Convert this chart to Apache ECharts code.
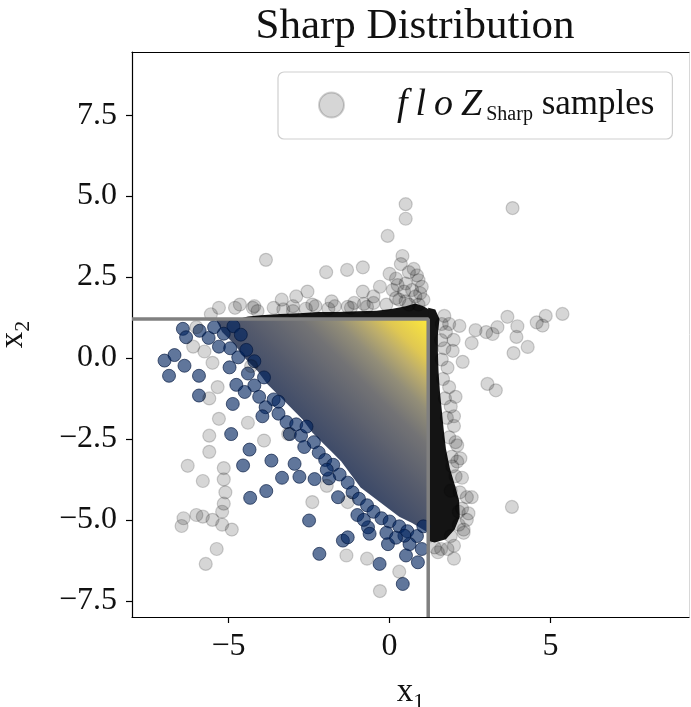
<!DOCTYPE html>
<html><head><meta charset="utf-8">
<script src="https://cdn.jsdelivr.net/npm/echarts@6/dist/echarts.min.js"></script>
<style>html,body{margin:0;padding:0;background:#fff}#c{width:691px;height:707px}</style>
</head><body><div id="c"></div>
<script>
// ---- data ----
const xTicks = [-5, 0, 5];
const yTicks = [-7.5, -5, -2.5, 0, 2.5, 5, 7.5];
const xRange = [-8, 9.3];
const yRange = [-8, 9.45];
// truncation boundary of the Sharp distribution
const boundaryLine = [[-8, 1.2], [1.2, 1.2], [1.2, -8]];
// dense region of target samples (colour-mapped)
const targetRegion = [[1.2,1.2],[-5.4,1.2],[-5.2,0.8],[-4.8,0.4],[-4.5,0.0],[-4.1,-0.4],[-3.8,-0.8],[-3.4,-1.2],[-3.0,-1.6],[-2.7,-1.9],[-2.4,-2.3],[-2.1,-2.6],[-1.8,-2.9],[-1.5,-3.2],[-1.2,-3.6],[-0.9,-4.0],[-0.5,-4.3],[-0.1,-4.6],[0.3,-4.9],[0.7,-5.1],[1.2,-5.4]];
const gradientFrom = [-2.4, -2.4];
const gradientTo = [1.2, 1.2];
// dense piles of floZ samples along the boundary
const topBand = [[-4.7,1.2],[1.2,1.2],[1.3,1.45],[1.05,1.6],[0.8,1.68],[0.5,1.6],[0.1,1.52],[-0.4,1.46],[-1.0,1.44],[-1.6,1.42],[-2.2,1.42],[-2.8,1.38],[-3.4,1.36],[-4.0,1.32],[-4.4,1.28]];
const rightBand = [[1.2,1.55],[1.42,1.5],[1.55,1.2],[1.5,0.7],[1.5,0.2],[1.52,-0.4],[1.56,-1.0],[1.62,-1.6],[1.68,-2.2],[1.75,-2.8],[1.87,-3.4],[2.02,-3.9],[2.16,-4.4],[2.18,-4.9],[2.02,-5.3],[1.75,-5.6],[1.4,-5.7],[1.2,-5.65]];
// sparse target samples (low density, dark blue)
const targetPoints = [[-6.42,0.90],[-6.32,0.64],[-5.90,0.84],[-5.62,0.62],[-5.45,0.95],[-5.15,0.75],[-4.85,0.98],[-4.62,0.72],[-5.30,0.35],[-4.95,0.30],[-4.70,0.02],[-4.45,0.25],[-6.99,-0.08],[-6.68,0.09],[-6.85,-0.55],[-6.37,-0.24],[-5.92,-0.55],[-5.92,-1.16],[-4.87,-1.42],[-4.76,-0.83],[-4.97,-0.29],[-4.40,-0.48],[-4.20,-0.85],[-4.50,-1.05],[-4.05,-1.20],[-3.85,-1.52],[-3.60,-1.28],[-3.95,-1.80],[-3.45,-1.72],[-3.20,-1.98],[-2.90,-2.05],[-2.75,-2.40],[-2.58,-2.12],[-2.65,-2.75],[-2.35,-2.60],[-2.20,-2.92],[-2.00,-3.15],[-1.75,-3.30],[-1.55,-3.60],[-1.30,-3.85],[-1.15,-4.15],[-0.95,-4.35],[-0.70,-4.55],[-0.50,-4.75],[-0.25,-4.95],[0.00,-5.05],[0.30,-5.20],[0.55,-5.35],[0.85,-5.50],[1.00,-5.90],[0.88,-6.31],[0.62,-5.75],[0.51,-6.10],[0.46,-5.49],[0.41,-6.98],[-0.31,-6.36],[-0.05,-5.75],[-0.10,-5.40],[-0.67,-5.23],[-0.62,-5.43],[-1.45,-5.64],[-1.30,-5.54],[-2.18,-6.05],[-2.50,-5.02],[-4.92,-2.35],[-4.35,-2.83],[-4.55,-3.32],[-3.67,-3.17],[-3.10,-2.35],[-3.34,-3.70],[-2.95,-3.27],[-2.80,-3.67],[-3.83,-4.11],[-4.33,-4.32],[-2.33,-3.74],[-1.88,-3.72],[-1.60,-4.30],[-1.00,-4.85],[-0.80,-5.00],[1.05,-5.20],[0.20,-5.55],[-1.95,-3.45],[-3.45,-1.35],[-4.20,-0.10],[-3.90,-0.60]];
// floZ samples (sparse ones)
const flowPoints = [[0.50,4.75],[0.50,4.30],[-0.06,3.77],[3.82,4.63],[0.40,3.15],[-0.83,2.80],[-0.80,1.67],[-3.84,3.03],[-1.97,2.65],[-1.32,2.72],[-3.35,1.80],[-2.90,1.90],[-2.55,2.05],[-4.25,1.55],[-4.65,1.65],[-2.30,1.60],[-1.80,1.75],[-1.20,1.55],[-0.50,1.90],[-0.83,2.05],[0.00,2.60],[0.20,2.45],[0.50,2.30],[0.70,2.10],[0.90,2.40],[0.80,1.90],[0.30,1.80],[0.60,2.65],[0.95,2.00],[0.10,2.10],[0.60,1.65],[0.90,1.65],[0.35,2.90],[-0.30,2.20],[0.75,2.75],[1.00,2.20],[0.25,2.25],[0.45,2.05],[0.85,2.55],[1.05,1.80],[-5.30,1.55],[-5.55,1.35],[-3.00,1.45],
[3.66,1.27],[4.85,1.30],[5.37,1.36],[4.57,1.10],[4.75,1.00],[3.97,0.98],[3.94,0.65],[4.29,0.34],[3.85,0.15],[2.67,0.86],[3.20,0.74],[3.00,0.80],[2.55,0.46],[3.35,0.95],[2.17,0.99],[1.85,1.05],[1.99,0.56],[1.96,0.22],[2.27,-0.12],[3.04,-0.80],[3.30,-1.00],[2.10,-2.70],[2.20,-3.10],[1.95,-3.35],[3.80,-4.60],[2.30,-5.30],[1.80,-5.90],[2.15,-4.75],[2.05,-1.20],[2.00,-1.80],[1.90,-4.10],[2.55,-4.30],[2.40,-5.00],[1.50,-6.00],[2.00,-6.20],
[1.70,1.30],[1.75,0.80],[1.70,0.30],[1.80,-0.30],[1.85,-0.90],[1.90,-1.50],[2.00,-2.10],[2.05,-2.60],[2.10,-3.20],[2.25,-3.70],[2.40,-4.30],[2.45,-4.80],[2.30,-5.40],[2.00,-5.80],[1.60,-5.90],[-4.80,1.55],[-4.20,1.60],[-3.60,1.55],[-3.00,1.60],[-2.40,1.65],[-1.70,1.60],[-1.10,1.70],[-0.50,1.70],[0.20,1.85],
[1.62,1.05],[1.60,0.55],[1.62,-0.05],[1.66,-0.65],[1.72,-1.25],[1.78,-1.85],[1.85,-2.45],[1.93,-3.05],[2.05,-3.65],[2.18,-4.15],[2.25,-4.65],[2.15,-5.15],[1.90,-5.50],[1.40,-5.85],[-4.10,1.45],[-3.30,1.50],[-2.60,1.52],[-1.90,1.52],[-1.30,1.58],[-0.70,1.58],[-0.10,1.65],[0.50,1.75],
[-6.27,-3.33],[-6.46,-5.19],[-5.71,-6.36],[-5.37,-5.90],[-5.80,-3.80],[-5.60,-2.90],[-5.60,-2.40],[-5.30,-1.88],[-4.40,-2.00],[-5.15,-3.40],[-5.15,-3.75],[-5.10,-4.15],[-5.15,-4.50],[-5.20,-4.75],[-6.00,-4.85],[-5.80,-4.90],[-5.50,-5.00],[-5.20,-5.15],[-4.90,-5.30],[-5.34,-0.90],[-5.60,-1.25],[-2.40,-4.45],[-1.34,-6.10],[-0.70,-6.20],[-0.30,-7.20],[-1.30,-4.45],[-3.15,-2.35],[-1.95,-3.95],[-6.10,0.35],[-5.75,0.20],[-5.50,-0.15],[-4.30,-0.25],[-3.90,-2.55],[-6.00,0.95],[-6.40,-4.95],[0.30,-6.60]];

// ---- chart ----
const FONT = 'Liberation Serif';
const fmt = v => String(v).replace('-', '\u2212');
const fmtY = v => v.toFixed(1).replace('-', '\u2212');
const cividisStops = [
  {offset: 0.0, color: '#3d4a68'},
  {offset: 0.2, color: '#545a6c'},
  {offset: 0.45, color: '#737375'},
  {offset: 0.6, color: '#938e78'},
  {offset: 0.72, color: '#bcad6c'},
  {offset: 0.82, color: '#e0c852'},
  {offset: 1.0, color: '#fde93b'}
];
function polygonSeries(name, verts, styleFn) {
  return {
    type: 'custom', name: name, silent: true, clip: true,
    data: [[0, 0]],
    renderItem: function (params, api) {
      const pts = verts.map(v => api.coord(v));
      return {type: 'polygon', shape: {points: pts}, style: styleFn(api)};
    }
  };
}
const chart = echarts.init(document.getElementById('c'), null, {renderer: 'canvas'});
const axisCommon = {
  type: 'value', splitLine: {show: false},
  axisLine: {show: true, onZero: false, lineStyle: {color: '#000', width: 1.2}},
  axisTick: {show: true, length: 6, lineStyle: {color: '#000', width: 1.2}},
};
const subRich = {
  b: {fontFamily: FONT, fontSize: 33, color: '#111'},
  s: {fontFamily: FONT, fontSize: 22, color: '#111', padding: [20, 0, 0, 0]}
};
chart.setOption({
  animation: false,
  backgroundColor: '#fff',
  title: {
    text: 'Sharp Distribution', left: 410, textAlign: 'center', top: 0,
    textStyle: {fontFamily: FONT, fontSize: 43, fontWeight: 'normal', color: '#111'}
  },
  grid: {left: 132, right: 2, top: 52, bottom: 90, containLabel: false, outerBoundsMode: 'none'},
  legend: {
    data: ['floZ samples'], left: 278, top: 72, orient: 'horizontal',
    icon: 'circle', itemWidth: 25, itemHeight: 25,
    padding: [14, 18, 14, 40],
    backgroundColor: 'rgba(255,255,255,0.85)', borderColor: '#cfcfcf', borderWidth: 1.2, borderRadius: 6,
    formatter: function () { return '{i|f}{i|l}{i|o}{i|Z}{s|Sharp}{r| samples}'; },
    textStyle: {
      padding: [0, 0, 0, 44], color: '#111', fontFamily: FONT, fontSize: 34,
      rich: {
        i: {fontFamily: FONT, fontStyle: 'italic', fontSize: 38, padding: [0, 4, 0, 4], color: '#111'},
        s: {fontFamily: FONT, fontSize: 20, padding: [20, 0, 0, 0], color: '#111'},
        r: {fontFamily: FONT, fontSize: 35, color: '#111'}
      }
    }
  },
  xAxis: [Object.assign({}, axisCommon, {
    min: xRange[0], max: xRange[1], position: 'bottom',
    axisTick: Object.assign({}, axisCommon.axisTick, {customValues: xTicks}),
    axisLabel: {customValues: xTicks, formatter: fmt, fontFamily: FONT, fontSize: 32, color: '#111', margin: 14},
    name: '{b|x}{s|1}', nameLocation: 'middle', nameGap: 54,
    nameTextStyle: {rich: subRich}
  }), {
    type: 'value', min: xRange[0], max: xRange[1], position: 'top', gridIndex: 0,
    axisLine: {show: true, onZero: false, lineStyle: {color: '#000', width: 1.2}}, axisTick: {show: false}, axisLabel: {show: false}, splitLine: {show: false}
  }],
  yAxis: [Object.assign({}, axisCommon, {
    min: yRange[0], max: yRange[1], position: 'left',
    axisTick: Object.assign({}, axisCommon.axisTick, {customValues: yTicks}),
    axisLabel: {customValues: yTicks, formatter: fmtY, fontFamily: FONT, fontSize: 32, color: '#111', margin: 15},
    name: '{b|x}{s|2}', nameLocation: 'middle', nameGap: 98, nameRotate: 90,
    nameTextStyle: {rich: subRich}
  }), {
    type: 'value', min: yRange[0], max: yRange[1], position: 'right', gridIndex: 0,
    axisLine: {show: true, onZero: false, lineStyle: {color: '#d8d8d8', width: 1}}, axisTick: {show: false}, axisLabel: {show: false}, splitLine: {show: false}
  }],
  series: [
    polygonSeries('target density', targetRegion, function (api) {
      const a = api.coord(gradientFrom), b = api.coord(gradientTo);
      return {fill: new echarts.graphic.LinearGradient(a[0], a[1], b[0], b[1], cividisStops, true)};
    }),
    {
      type: 'scatter', name: 'target samples', data: targetPoints, symbolSize: 13,
      itemStyle: {color: 'rgba(0,35,95,0.78)', borderColor: 'rgba(0,20,60,0.8)', borderWidth: 1}, silent: true
    },
    polygonSeries('floZ pile top', topBand, function () { return {fill: '#141414'}; }),
    polygonSeries('floZ pile right', rightBand, function () { return {fill: '#141414'}; }),
    {
      type: 'scatter', name: 'floZ samples', data: flowPoints, symbolSize: 13,
      itemStyle: {color: 'rgba(0,0,0,0.2)', borderColor: 'rgba(0,0,0,0.22)', borderWidth: 1.2}, silent: true
    },
    {
      type: 'line', name: 'boundary', data: boundaryLine, symbol: 'none', silent: true,
      lineStyle: {color: '#808080', width: 3.5}, z: 5
    }
  ]
});
</script>
</body></html>
